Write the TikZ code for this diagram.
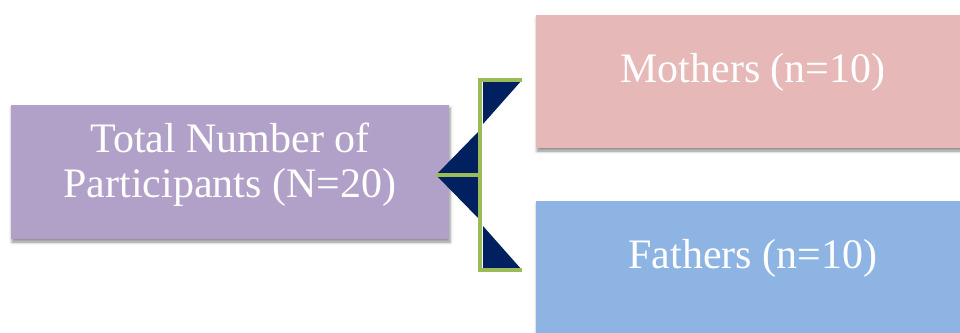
\documentclass[tikz,border=0pt]{standalone}
\usepackage{fontspec}
\setmainfont{Liberation Serif}
\usepackage{xcolor}
\usetikzlibrary{positioning, shadows.blur}

\definecolor{boxpurple}{HTML}{B1A0C7}
\definecolor{boxpink}{HTML}{E6B8B7}
\definecolor{boxblue}{HTML}{8EB4E3}
\definecolor{bracketgreen}{HTML}{9BBB59}
\definecolor{wedgenavy}{HTML}{002060}

\begin{document}
\begin{tikzpicture}[x=1pt, y=-1pt, font=\fontsize{42}{45}\selectfont,
  box/.style={rectangle, inner sep=0pt, text=white,
    blur shadow={shadow xshift=1pt, shadow yshift=-3pt, shadow blur radius=3pt, shadow opacity=45}},
  group/.style={box, minimum width=434pt, minimum height=133pt, text height=28pt, text depth=26pt},
  bracket/.style={draw=bracketgreen, line width=4pt},
  wedge/.style={fill=wedgenavy}]
  \clip (0,0) rectangle (960,332);
  \node[box, fill=boxpurple, minimum width=438pt, minimum height=134pt, align=center, text depth=24pt] (total) at (230,172) {Total Number of\\Participants (N=20)};
  \node[group, fill=boxpink] (mothers) at (753,81.5) {Mothers (n=10)};
  \node[group, fill=boxblue, below=53pt of mothers] (fathers) {Fathers (n=10)};
  % bracket joining the groups
  \coordinate (tip) at (436,175);
  \coordinate (spine) at (480,175);
  \coordinate (armtop) at (522,80);
  \coordinate (armbot) at (522,270);
  \fill[wedge] (tip) -- (480,130) -- (480,220) -- cycle;
  \fill[wedge] (483,80) -- (armtop) -- (483,124) -- cycle;
  \fill[wedge] (483,270) -- (armbot) -- (483,226) -- cycle;
  \draw[bracket] (armtop) -- (spine |- armtop) -- (spine |- armbot) -- (armbot);
  \draw[bracket] (tip) -- (spine);
\end{tikzpicture}
\end{document}
